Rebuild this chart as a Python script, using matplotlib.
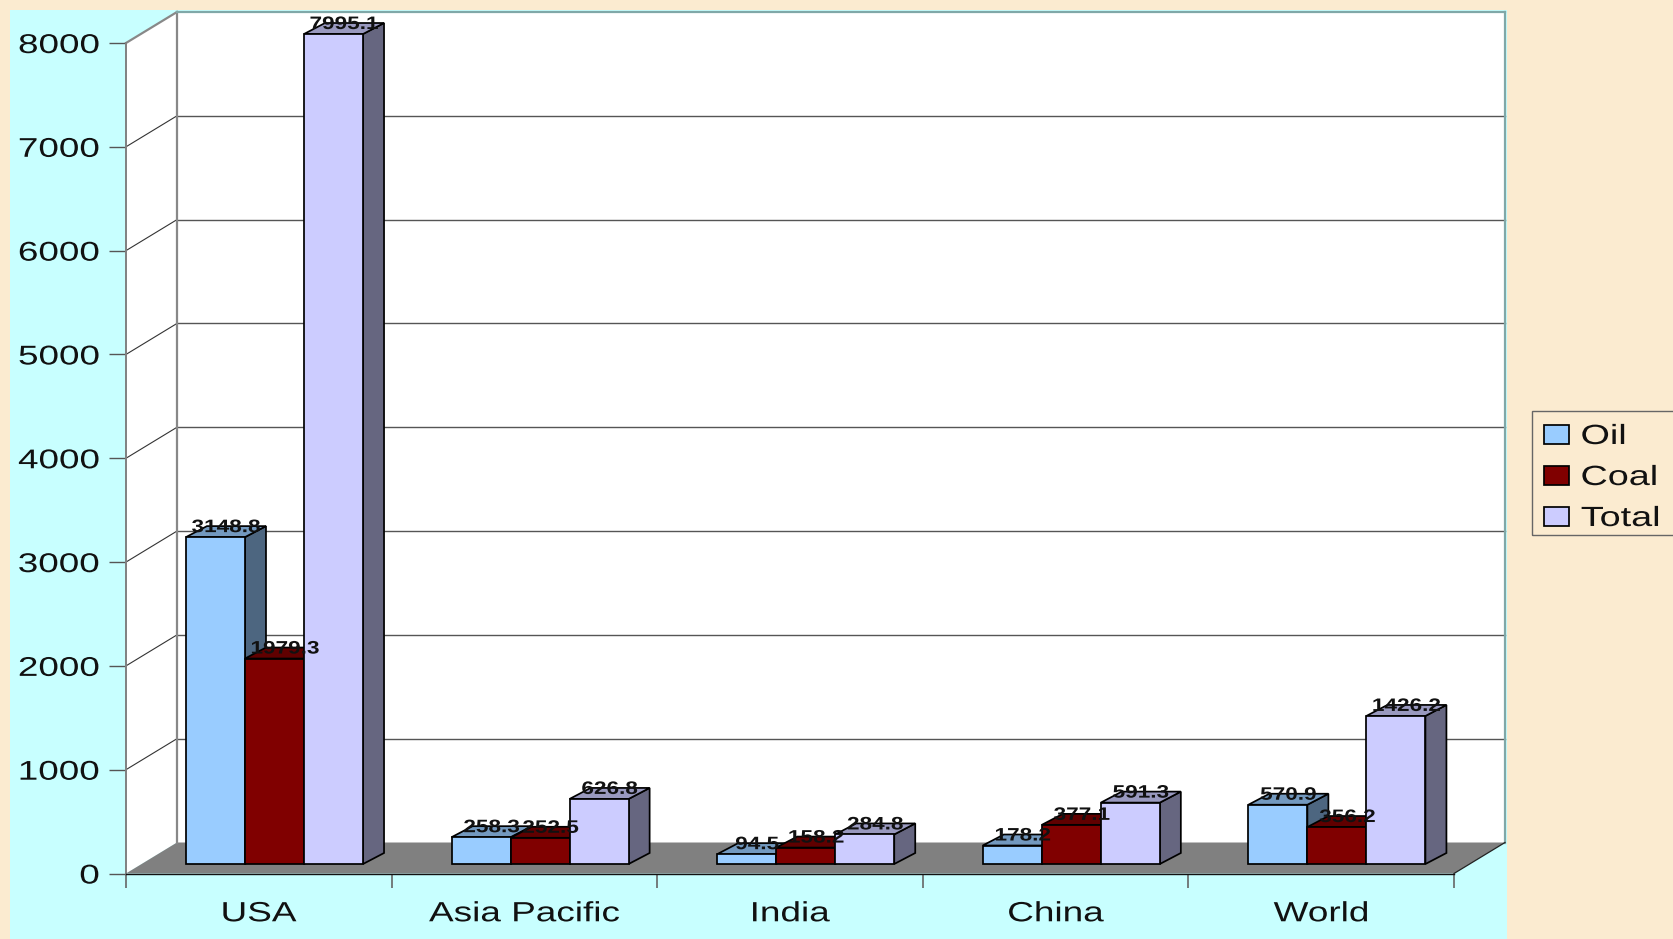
import matplotlib
matplotlib.use("Agg")
import matplotlib.pyplot as plt
from matplotlib.patches import Polygon, Rectangle
from matplotlib.patheffects import AbstractPathEffect
from matplotlib.transforms import Affine2D

categories = ["USA", "Asia Pacific", "India", "China", "World"]
oil = [3148.8, 258.3, 94.5, 178.2, 570.9]
coal = [1979.3, 252.5, 158.2, 377.1, 356.2]
total = [7995.1, 626.8, 284.8, 591.3, 1426.2]
series_names = ["Oil", "Coal", "Total"]
y_ticks = [0, 1000, 2000, 3000, 4000, 5000, 6000, 7000, 8000]

W, H = 1673, 939
BG = "#FBEBD0"
CYAN = "#C8FFFF"
fronts = ["#99CCFF", "#800000", "#CCCCFF"]
tops = ["#7399BF", "#600000", "#9999BF"]
sides = ["#4D6680", "#400000", "#666680"]
FONT = "Liberation Sans"


class StretchX(AbstractPathEffect):
    """Widen glyphs horizontally about an anchor (0 left, .5 centre, 1 right)."""

    def __init__(self, sx, anchor):
        super().__init__()
        self.sx, self.anchor = sx, anchor

    def draw_path(self, renderer, gc, tpath, affine, rgbFace=None):
        e = tpath.get_extents()
        a = e.x0 + self.anchor * e.width
        pre = Affine2D().translate(-a, 0).scale(self.sx, 1).translate(a, 0)
        renderer.draw_path(gc, tpath, pre + affine, rgbFace)


fig = plt.figure(figsize=(W / 100, H / 100), dpi=100, facecolor=BG)
L, R, T0, B0 = 126, 1454, 43, 873.5
ax = fig.add_axes([L / W, 1 - B0 / H, (R - L) / W, (B0 - T0) / H])
ax.set_xlim(0, 5)
ax.set_ylim(0, 8000)
ax.patch.set_visible(False)
PX = 5 / (R - L)
PY = 8000 / (B0 - T0)

# cyan chart-area panel (figure pixels)
fig.patches.append(Rectangle((10 / W, 0), 1497 / W, 1 - 10 / H, transform=fig.transFigure,
                             facecolor=CYAN, edgecolor="none", zorder=-5))

WDX, WDY = 51 * PX, 31 * PY   # wall depth
kw = dict(clip_on=False)
# walls and floor
ax.add_patch(Polygon([(WDX, WDY), (5 + WDX, WDY), (5 + WDX, 8000 + WDY), (WDX, 8000 + WDY)],
                     closed=True, fc="white", ec="none", zorder=1, **kw))
ax.add_patch(Polygon([(0, 0), (WDX, WDY), (WDX, 8000 + WDY), (0, 8000)],
                     closed=True, fc="white", ec="none", zorder=1, **kw))
ax.add_patch(Polygon([(0, 0), (5, 0), (5 + WDX, WDY), (WDX, WDY)],
                     closed=True, fc="#808080", ec="none", zorder=1, **kw))
# grid
for v in y_ticks[1:-1]:
    ax.plot([WDX, 5 + WDX], [v + WDY, v + WDY], color="#555555", lw=1.0, zorder=2, **kw)
    ax.plot([0, WDX], [v, v + WDY], color="#333333", lw=0.8, zorder=2, **kw)
ax.plot([WDX, WDX], [WDY, 8000 + WDY], color="#888888", lw=1.6, zorder=2, **kw)
ax.plot([0, WDX], [8000, 8000 + WDY], color="#888888", lw=1.6, zorder=2, **kw)
ax.plot([WDX, 5 + WDX], [8000 + WDY, 8000 + WDY], color="#80A8A8", lw=1.6, zorder=2, **kw)
ax.plot([5 + WDX, 5 + WDX], [WDY, 8000 + WDY], color="#80A8A8", lw=1.6, zorder=2, **kw)
ax.plot([5, 5 + WDX], [0, WDY], color="#222222", lw=0.9, zorder=2, **kw)

# bars
BW = 2 / 9
OX, OY = 15.7 * PX, 9.5 * PY     # bar front-plane offset
DX, DY = 21 * PX, 11 * PY        # bar depth
z = 3
for c in range(len(categories)):
    for s, values in enumerate([oil, coal, total]):
        x0 = c + (1 - 3 * BW) / 2 + s * BW + OX
        x1 = x0 + BW
        y0, y1 = OY, OY + values[c]
        ec = dict(edgecolor="black", linewidth=1.25, joinstyle="miter", clip_on=False)
        ax.add_patch(Polygon([(x1, y0), (x1 + DX, y0 + DY), (x1 + DX, y1 + DY), (x1, y1)],
                             closed=True, facecolor=sides[s], zorder=z, **ec))
        ax.add_patch(Polygon([(x0, y1), (x1, y1), (x1 + DX, y1 + DY), (x0 + DX, y1 + DY)],
                             closed=True, facecolor=tops[s], zorder=z, **ec))
        ax.bar(x0, values[c], BW, bottom=y0, align="edge", facecolor=fronts[s], zorder=z + 0.5, **ec)
        z += 1

# data labels
for c in range(len(categories)):
    for s, values in enumerate([oil, coal, total]):
        xc = c + (1 - 3 * BW) / 2 + (s + 0.5) * BW
        ax.annotate(f"{values[c]:.1f}", xy=(xc, values[c]), xytext=(15.7 + 10.5, 9.5 + 5),
                    textcoords="offset pixels", ha="center", va="baseline",
                    fontsize=13, fontweight="bold", family=FONT, color="#111111",
                    zorder=200, annotation_clip=False,
                    path_effects=[StretchX(1.25, 0.5)])

# axes furniture
for name in ("top", "right"):
    ax.spines[name].set_visible(False)
ax.spines["left"].set_color("#808080")
ax.spines["left"].set_linewidth(1.4)
ax.spines["bottom"].set_color("#111111")
ax.spines["bottom"].set_linewidth(1.0)
ax.spines["left"].set_zorder(2.5)
ax.spines["bottom"].set_zorder(2.5)
ax.set_yticks(y_ticks)
ax.set_xticks(range(6))
ax.set_xticklabels([])
ax.set_xticks([i + 0.5 for i in range(5)], minor=True)
ax.set_xticklabels(categories, minor=True)
ax.tick_params(axis="x", which="major", length=10, width=1.2, color="#666666")
ax.tick_params(axis="x", which="minor", length=0, pad=20, labelsize=20)
ax.tick_params(axis="y", length=12.2, width=1.0, color="#555555", pad=7, labelsize=19.5)
for t in ax.get_xticklabels(minor=True):
    t.set_family(FONT)
    t.set_color("#111111")
    t.set_path_effects([StretchX(1.33, 0.5)])
for t in ax.get_yticklabels():
    t.set_family(FONT)
    t.set_color("#111111")
    t.set_path_effects([StretchX(1.36, 1.0)])

# legend
fig.patches.append(Rectangle((1532 / W, 1 - 535 / H), 160 / W, 124 / H, transform=fig.transFigure,
                             facecolor="none", edgecolor="#666666", linewidth=1.0, zorder=5))
for name, color, base in zip(series_names, fronts, [444, 485, 526]):
    fig.patches.append(Rectangle((1544 / W, 1 - base / H), 25 / W, 19 / H,
                                 transform=fig.transFigure, facecolor=color,
                                 edgecolor="black", linewidth=1.25, zorder=6))
    fig.text(1581 / W, 1 - base / H, name, family=FONT, fontsize=20, color="#111111",
             ha="left", va="baseline", path_effects=[StretchX(1.36, 0.0)], zorder=7)

fig.savefig("out.png", dpi=100, facecolor=BG)
